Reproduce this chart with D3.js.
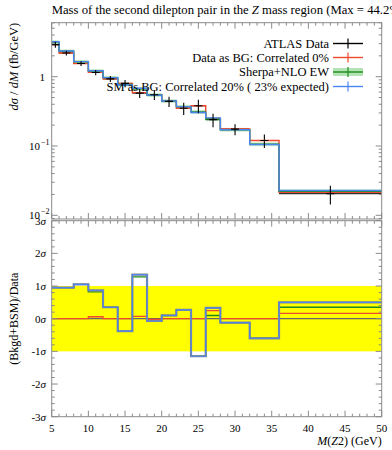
<!DOCTYPE html>
<html><head><meta charset="utf-8">
<script src="https://cdn.jsdelivr.net/npm/d3@7"></script>
<style>
body{margin:0;background:#fff;}
text{font-family:"Liberation Serif","DejaVu Serif",serif;fill:#000;}
</style></head>
<body><svg id="c" width="392" height="450"></svg>
<script>
// ---- data ----
const binEdges = [5,6,8,10,12,14,16,18,20,22,24,26,28,32,36,50];
const dataVals = [2.9,2.2,1.55,1.15,0.93,0.80,0.58,0.55,0.44,0.35,0.38,0.24,0.175,0.12,0.0205];
const dataRelErr = [0.10,0.08,0.08,0.09,0.10,0.12,0.15,0.16,0.17,0.20,0.22,0.22,0.18,0.22,0.30];
const redVals = [2.9,2.2,1.55,1.16,0.93,0.80,0.59,0.55,0.44,0.35,0.38,0.25,0.176,0.12,0.0215];
const greenVals = [3.15,2.33,1.64,1.21,0.97,0.77,0.67,0.545,0.445,0.37,0.31,0.245,0.172,0.106,0.0222];
const blueVals = [3.2,2.35,1.65,1.22,0.97,0.76,0.68,0.545,0.445,0.37,0.305,0.255,0.172,0.105,0.0228];
const greenBandRel = 0.06;
const ratioBlue = [0.95,0.95,1.05,0.87,0.35,-0.38,1.35,-0.07,0.10,0.27,-1.15,0.33,-0.12,-0.60,0.50];
const ratioGreen = [0.95,0.95,1.05,0.82,0.35,-0.38,1.28,-0.07,0.10,0.27,-1.15,0.10,-0.12,-0.60,0.35];
const ratioRed = [0,0,0,0.06,0,0,0.07,-0.02,0,0,0,0.25,0,0,0.16];
const ratioData = [0,0,0,0,0,0,0,0,0,0,0,0,0,0,0];
const xTickLabels = [5,10,15,20,25,30,35,40,45,50];
const ratioTicks = [-3,-2,-1,0,1,2,3];
const legendLabels = ["ATLAS Data","Data as BG: Correlated 0%","Sherpa+NLO EW","SM as BG: Correlated 20% ( 23% expected)"];

// ---- layout ----
const L = 51.7, R = 381.7;
const T1 = 22.7, B1 = 219;
const T2 = 220.7, B2 = 416.7;
const cBlue = "#4a85f0", cRed = "#ee4a2e", cGreen = "#1e8a1e", cBand = "#9fdc9f", frame = "#8a8a8a";

const svg = d3.select("#c");
const x = d3.scaleLinear().domain([5,50]).range([L,R]);
const yTopVal = Math.pow(10,(76.7-T1)/69.3), yBotVal = Math.pow(10,-(B1-76.7)/69.3);
const y = d3.scaleLog().domain([yBotVal,yTopVal]).range([B1,T1]);
const yr = d3.scaleLinear().domain([-3,3]).range([B2,T2]);

// title
const title = svg.append("text").attr("x",L).attr("y",14).attr("font-size",12.7);
title.append("tspan").text("Mass of the second dilepton pair in the ");
title.append("tspan").attr("font-style","italic").text("Z");
title.append("tspan").text(" mass region (Max = 44.2%)");

function stepPts(vals){
  const pts=[];
  vals.forEach((v,i)=>{pts.push([binEdges[i],v]);pts.push([binEdges[i+1],v]);});
  return pts;
}
svg.append("clipPath").attr("id","ct").append("rect").attr("x",L).attr("y",T1).attr("width",R-L).attr("height",B1-T1);
const gTop = svg.append("g").attr("clip-path","url(#ct)");
const lineTop = d3.line().x(d=>x(d[0])).y(d=>y(d[1]));

// green band
gTop.selectAll("rect.band").data(greenVals).join("rect")
  .attr("x",(d,i)=>x(binEdges[i])).attr("width",(d,i)=>x(binEdges[i+1])-x(binEdges[i]))
  .attr("y",d=>y(d*(1+greenBandRel))).attr("height",d=>y(d*(1-greenBandRel))-y(d*(1+greenBandRel)))
  .attr("fill",cBand).attr("opacity",0.7);
// data horizontal bars under the model lines
dataVals.forEach((v,i)=>{
  gTop.append("line").attr("x1",x(binEdges[i])).attr("x2",x(binEdges[i+1])).attr("y1",y(v)).attr("y2",y(v)).attr("stroke","#000").attr("stroke-width",1);
});
gTop.append("path").attr("d",lineTop(stepPts(redVals))).attr("fill","none").attr("stroke",cRed).attr("stroke-width",1.4);
gTop.append("path").attr("d",lineTop(stepPts(greenVals))).attr("fill","none").attr("stroke",cGreen).attr("stroke-width",1.4);
gTop.append("path").attr("d",lineTop(stepPts(blueVals))).attr("fill","none").attr("stroke",cBlue).attr("stroke-width",1.4);
// data crosses
dataVals.forEach((v,i)=>{
  const xc=(binEdges[i]+binEdges[i+1])/2;
  gTop.append("line").attr("x1",x(xc)-4).attr("x2",x(xc)+4).attr("y1",y(v)).attr("y2",y(v)).attr("stroke","#000").attr("stroke-width",1.1);
  gTop.append("line").attr("x1",x(xc)).attr("x2",x(xc)).attr("y1",y(v*(1+dataRelErr[i]))).attr("y2",y(v*(1-dataRelErr[i]))).attr("stroke","#000").attr("stroke-width",1.1);
});

// ratio panel
svg.append("clipPath").attr("id","cr").append("rect").attr("x",L).attr("y",T2).attr("width",R-L).attr("height",B2-T2);
const gR = svg.append("g").attr("clip-path","url(#cr)");
gR.append("rect").attr("x",L).attr("width",R-L).attr("y",yr(1)).attr("height",yr(-1)-yr(1)).attr("fill","#ffff00");
const lineR = d3.line().x(d=>x(d[0])).y(d=>yr(d[1]));
gR.append("path").attr("d",lineR(stepPts(ratioData))).attr("fill","none").attr("stroke","#666").attr("stroke-width",1.2);
gR.append("path").attr("d",lineR(stepPts(ratioRed))).attr("fill","none").attr("stroke",cRed).attr("stroke-width",1.3);
gR.append("path").attr("d",lineR(stepPts(ratioGreen))).attr("fill","none").attr("stroke",cGreen).attr("stroke-width",1.4);
gR.append("path").attr("d",lineR(stepPts(ratioBlue))).attr("fill","none").attr("stroke","#888").attr("stroke-width",2.2);
gR.append("path").attr("d",lineR(stepPts(ratioBlue))).attr("fill","none").attr("stroke",cBlue).attr("stroke-width",1.1);

// frames
[[T1,B1],[T2,B2]].forEach(([t,b])=>{
  svg.append("rect").attr("x",L).attr("y",t).attr("width",R-L).attr("height",b-t).attr("fill","none").attr("stroke",frame).attr("stroke-width",1);
});
// x ticks
const xMinor = d3.range(5,51,1);
function xTicks(yEdge,dir){
  xMinor.forEach(v=>{
    const len = v%5===0?6:3;
    svg.append("line").attr("x1",x(v)).attr("x2",x(v)).attr("y1",yEdge).attr("y2",yEdge+dir*len).attr("stroke",frame);
  });
}
xTicks(B1,-1); xTicks(T1,1); xTicks(B2,-1); xTicks(T2,1);
// y log ticks
const logMajor=[0.01,0.1,1];
const logMinor=[];
[0.001,0.01,0.1,1].forEach(d=>{for(let k=2;k<=9;k++){const v=d*k; if(v>=yBotVal&&v<=yTopVal) logMinor.push(v);}});
logMajor.forEach(v=>{[[L,1],[R,-1]].forEach(([xe,dir])=>svg.append("line").attr("x1",xe).attr("x2",xe+dir*6).attr("y1",y(v)).attr("y2",y(v)).attr("stroke",frame));});
logMinor.forEach(v=>{[[L,1],[R,-1]].forEach(([xe,dir])=>svg.append("line").attr("x1",xe).attr("x2",xe+dir*3).attr("y1",y(v)).attr("y2",y(v)).attr("stroke",frame));});
// ratio y ticks
d3.range(-3,3.001,0.2).forEach(v=>{
  const maj = Math.abs(v-Math.round(v))<1e-6;
  [[L,1],[R,-1]].forEach(([xe,dir])=>svg.append("line").attr("x1",xe).attr("x2",xe+dir*(maj?6:3)).attr("y1",yr(v)).attr("y2",yr(v)).attr("stroke",frame));
});

// y labels top
const yT = [[1,"1",null],[0.1,"10","−1"],[0.01,"10","−2"]];
yT.forEach(([v,b,e])=>{
  svg.append("text").attr("x",e?40:45).attr("y",y(v)+4).attr("font-size",11).attr("text-anchor","end").text(b);
  if(e){svg.append("text").attr("x",41).attr("y",y(v)-1).attr("font-size",8).text(e);}
});
// ratio labels
ratioTicks.forEach(v=>{
  const t = svg.append("text").attr("x",46).attr("y",yr(v)+4).attr("font-size",11).attr("text-anchor","end");
  t.append("tspan").text(v<0?("-"+Math.abs(v)):String(v));
  t.append("tspan").attr("font-style","italic").text("σ");
});
// x labels
xTickLabels.forEach(v=>{
  svg.append("text").attr("x",x(v)).attr("y",432).attr("font-size",11).attr("text-anchor","middle").text(v);
});
const xl = svg.append("text").attr("x",R).attr("y",445).attr("font-size",12).attr("text-anchor","end");
xl.append("tspan").attr("font-style","italic").text("M");
xl.append("tspan").text("(");
xl.append("tspan").attr("font-style","italic").text("Z");
xl.append("tspan").text("2) (GeV)");

const yl = svg.append("text").attr("transform",`translate(18,${T1}) rotate(-90)`).attr("font-size",12.5).attr("text-anchor","end");
yl.append("tspan").attr("font-style","italic").text("dσ");
yl.append("tspan").text(" / ");
yl.append("tspan").attr("font-style","italic").text("dM");
yl.append("tspan").text(" (fb/GeV)");
svg.append("text").attr("transform",`translate(18,${yr(0)}) rotate(-90)`).attr("font-size",12).attr("text-anchor","middle").text("(Bkgd+BSM)/Data");

// legend
const legY=[43.5,57.5,72,86.5];
const legCol=["#000",cRed,cGreen,cBlue];
legendLabels.forEach((lab,i)=>{
  svg.append("text").attr("x",329).attr("y",legY[i]+4).attr("font-size",12.5).attr("text-anchor","end").text(lab);
  if(i===2) svg.append("rect").attr("x",333).attr("y",legY[i]-4).attr("width",30).attr("height",8).attr("fill",cBand).attr("opacity",0.8);
  svg.append("line").attr("x1",333).attr("x2",363).attr("y1",legY[i]).attr("y2",legY[i]).attr("stroke",legCol[i]).attr("stroke-width",1.4);
  svg.append("line").attr("x1",348).attr("x2",348).attr("y1",legY[i]-5).attr("y2",legY[i]+5).attr("stroke",legCol[i]).attr("stroke-width",1.2);
});
</script></body></html>
